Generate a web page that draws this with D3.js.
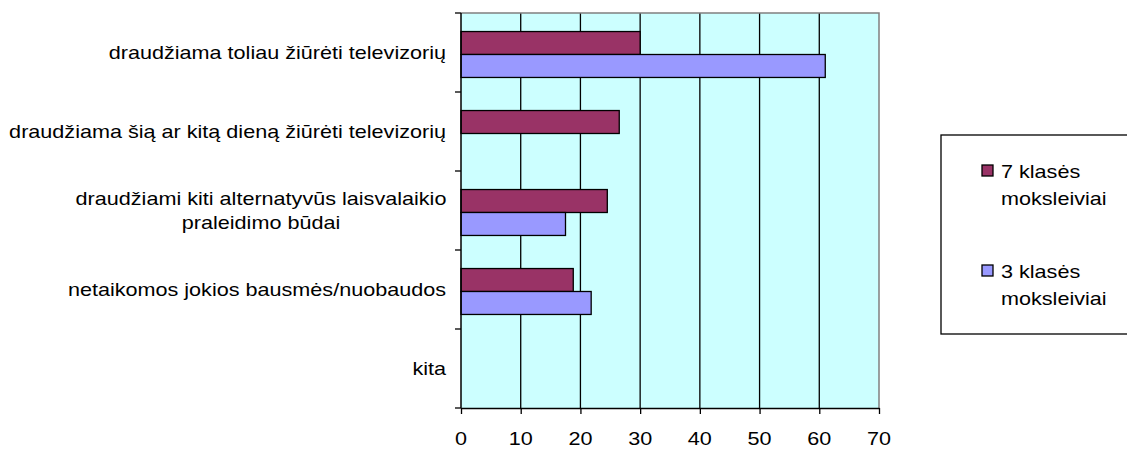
<!DOCTYPE html>
<html><head><meta charset="utf-8">
<script src="https://cdn.jsdelivr.net/npm/d3@7"></script>
<style>body{margin:0;background:#fff}svg{display:block}text{font-family:"Liberation Sans",Arial,sans-serif;fill:#000}</style>
</head><body><svg id="c" width="1127" height="450"></svg>
<script>
const categories = [
  ["draudžiama toliau žiūrėti televizorių"],
  ["draudžiama šią ar kitą dieną žiūrėti televizorių"],
  ["draudžiami kiti alternatyvūs laisvalaikio", "praleidimo būdai"],
  ["netaikomos jokios bausmės/nuobaudos"],
  ["kita"]
];
const seriesNames = [["7 klasės", "moksleiviai"], ["3 klasės", "moksleiviai"]];
const values7 = [30.0, 26.5, 24.5, 18.8, 0];
const values3 = [61.0, 0, 17.5, 21.8, 0];
const xTicks = [0, 10, 20, 30, 40, 50, 60, 70];
const colors = ["#993366", "#9999FF"];

const FS = 18, SX = 1.2;
const svg = d3.select("#c");
const L = 461, R = 879, T = 13, B = 408;
const x = d3.scaleLinear().domain([0, 70]).range([L, R]);
const y = d3.scaleBand().domain(d3.range(categories.length)).range([T, B]);
const inner = d3.scaleBand().domain([0, 1]).range([0, y.bandwidth()]).paddingOuter(0.72).paddingInner(0);

function stretchedText(parent, px, py, lines, anchor, lh) {
  const g = parent.append("g").attr("transform", `translate(${px},${py}) scale(${SX},1)`);
  const t = g.append("text").attr("font-size", FS).attr("text-anchor", anchor);
  lines.forEach((s, k) => t.append("tspan").attr("x", 0).attr("y", k * lh).text(s));
  return t;
}

svg.append("rect").attr("x", L).attr("y", T).attr("width", R - L).attr("height", B - T).attr("fill", "#CCFFFF");
svg.append("g").selectAll("line").data(xTicks.slice(1, -1)).join("line")
  .attr("x1", d => x(d)).attr("x2", d => x(d)).attr("y1", T).attr("y2", B)
  .attr("stroke", "#000").attr("stroke-width", 1.3);
svg.append("path").attr("d", `M${L},${T}H${R}V${B}`).attr("fill", "none").attr("stroke", "#808080").attr("stroke-width", 1.5);

[values7, values3].forEach((vals, si) => {
  const g = svg.append("g");
  vals.forEach((v, i) => {
    if (v <= 0) return;
    g.append("rect")
      .attr("x", x(0)).attr("y", y(i) + inner(si) + 2)
      .attr("width", x(v) - x(0)).attr("height", inner.bandwidth())
      .attr("fill", colors[si]).attr("stroke", "#000").attr("stroke-width", 1.3);
  });
});

// x axis
const xAxis = d3.axisBottom(x).tickValues(xTicks).tickSize(6).tickSizeOuter(0);
const gx = svg.append("g").attr("transform", `translate(0,${B})`).call(xAxis);
gx.select(".domain").attr("stroke", "#000").attr("stroke-width", 1.5);
gx.selectAll(".tick line").attr("stroke", "#000").attr("stroke-width", 1.3);
gx.selectAll(".tick text").remove();
xTicks.forEach(v => stretchedText(svg, x(v), B + 37, [String(v)], "middle", 0));

// left axis
const yb = d3.range(categories.length + 1).map(i => T + i * y.step());
svg.append("line").attr("x1", L).attr("x2", L).attr("y1", T).attr("y2", B).attr("stroke", "#000").attr("stroke-width", 1.5);
svg.append("g").selectAll("line").data(yb).join("line")
  .attr("x1", L - 6).attr("x2", L).attr("y1", d => d).attr("y2", d => d)
  .attr("stroke", "#000").attr("stroke-width", 1.3);

// category labels
categories.forEach((lines, i) => {
  const cy = y(i) + y.bandwidth() / 2;
  const lh = 24;
  const multi = lines.length > 1;
  stretchedText(svg, multi ? 261 : 446, cy + 6.5 - (lines.length - 1) / 2 * lh, lines, multi ? "middle" : "end", lh);
});

// legend
svg.append("rect").attr("x", 941).attr("y", 135).attr("width", 200).attr("height", 199)
  .attr("fill", "#fff").attr("stroke", "#000").attr("stroke-width", 1.3);
const legY = [165, 265];
seriesNames.forEach((lines, si) => {
  svg.append("rect").attr("x", 982).attr("y", legY[si]).attr("width", 11).attr("height", 11)
    .attr("fill", colors[si]).attr("stroke", "#000").attr("stroke-width", 1.3);
  stretchedText(svg, 1001, legY[si] + 13, lines, "start", 27);
});
</script></body></html>
